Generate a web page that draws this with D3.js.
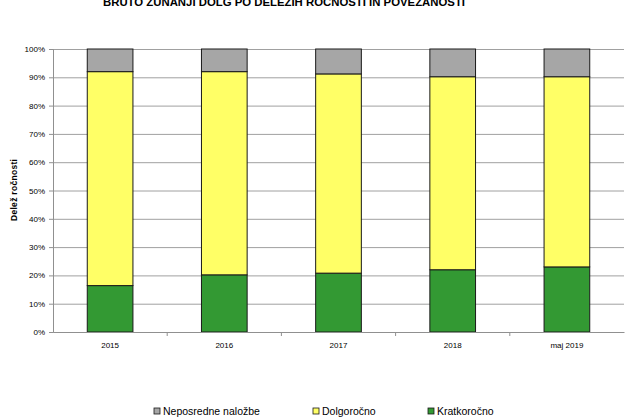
<!DOCTYPE html>
<html>
<head>
<meta charset="utf-8">
<script src="https://cdn.jsdelivr.net/npm/d3@7"></script>
<style>
  body { margin: 0; background: #fff; }
  svg { display: block; }
</style>
</head>
<body>
<div id="graf"></div>
<script>
// -- Datos (deleži v %)
leta = ['2015', '2016', '2017', '2018', 'maj 2019']
kratkorocno = [16.4, 20.2, 20.8, 22.0, 23.0]
dolgorocno = [75.6, 71.8, 70.4, 68.2, 67.2]
neposredne = [8.0, 8.0, 8.8, 9.8, 9.8]
serije = ['Kratkoročno', 'Dolgoročno', 'Neposredne naložbe']
legenda = ['Neposredne naložbe', 'Dolgoročno', 'Kratkoročno']
yTicks = [0, 10, 20, 30, 40, 50, 60, 70, 80, 90, 100]

barve = {'Kratkoročno': '#339933', 'Dolgoročno': '#ffff66', 'Neposredne naložbe': '#a6a6a6'}

ancho_total = 625
alto_total = 419
margins = {top: 49, left: 53, right: 1, bottom: 87}
ancho = ancho_total - margins.left - margins.right
alto = alto_total - margins.top - margins.bottom

svg = d3.select('#graf').append('svg')
        .attr('width', ancho_total)
        .attr('height', alto_total)
        .style('font-family', 'Liberation Sans, Arial, sans-serif')

g = svg.append('g')
       .attr('transform', `translate(${margins.left}, ${margins.top})`)

// -- Tabla para stack
tabla = leta.map((l, i) => ({
    leto: l,
    'Kratkoročno': kratkorocno[i],
    'Dolgoročno': dolgorocno[i],
    'Neposredne naložbe': neposredne[i]
}))
stack = d3.stack().keys(serije)(tabla)

// -- Escaladores
x = d3.scaleBand().domain(leta).range([0, ancho]).paddingInner(0.6).paddingOuter(0.3)
y = d3.scaleLinear().domain([0, 100]).range([alto, 0])

// -- Grid
g.append('g')
    .call(d3.axisLeft(y).tickValues(yTicks).tickSize(-ancho).tickFormat(''))
    .call(a => a.select('.domain').remove())
    .call(a => a.selectAll('line').attr('stroke', '#a0a0a0'))

// -- Eje Y
yAxis = g.append('g')
    .call(d3.axisLeft(y).tickValues(yTicks).tickSize(4).tickPadding(4).tickFormat(d => d + '%'))
yAxis.select('.domain').attr('stroke', '#909090').attr('d', `M-4,0.5H0.5V${alto}`)
yAxis.selectAll('line').attr('stroke', '#909090')
yAxis.selectAll('text').attr('font-size', '8px').attr('fill', '#000')
    .style('font-family', 'Liberation Sans, Arial, sans-serif')

// -- Barras
g.selectAll('g.serie')
    .data(stack)
    .enter().append('g')
        .attr('class', 'serie')
        .attr('fill', d => barve[d.key])
    .selectAll('rect')
    .data(d => d)
    .enter().append('rect')
        .attr('x', d => x(d.data.leto))
        .attr('y', d => y(d[1]))
        .attr('width', x.bandwidth())
        .attr('height', d => y(d[0]) - y(d[1]))
        .attr('stroke', '#1a1a1a')
        .attr('stroke-width', 1)

// -- Eje X
paso = x.step()
xAxis = g.append('g')
    .attr('transform', `translate(0, ${alto})`)
    .call(d3.axisBottom(x).tickSize(0).tickPadding(10))
xAxis.select('.domain').attr('stroke', '#909090')
xAxis.selectAll('text').attr('font-size', '8px').attr('fill', '#000')
    .style('font-family', 'Liberation Sans, Arial, sans-serif')
// marcas entre categorías
g.append('g')
    .selectAll('line')
    .data(leta.slice(1))
    .enter().append('line')
        .attr('x1', d => x(d) - (paso - x.bandwidth()) / 2)
        .attr('x2', d => x(d) - (paso - x.bandwidth()) / 2)
        .attr('y1', alto)
        .attr('y2', alto + 4)
        .attr('stroke', '#909090')

// -- Título
svg.append('text')
    .attr('x', 284)
    .attr('y', 6)
    .attr('text-anchor', 'middle')
    .attr('font-size', '11px')
    .attr('font-weight', 'bold')
    .attr('textLength', 362)
    .attr('lengthAdjust', 'spacingAndGlyphs')
    .text('BRUTO ZUNANJI DOLG PO DELEŽIH ROČNOSTI IN POVEZANOSTI')

// -- Título eje Y
svg.append('text')
    .attr('transform', 'translate(17, 190) rotate(-90)')
    .attr('text-anchor', 'middle')
    .attr('font-size', '8.5px')
    .attr('font-weight', 'bold')
    .attr('textLength', 62)
    .attr('lengthAdjust', 'spacing')
    .text('Delež ročnosti')

// -- Leyenda
legX = [154, 313, 428]
ley = svg.append('g').selectAll('g')
    .data(legenda)
    .enter().append('g')
        .attr('transform', (d, i) => `translate(${legX[i]}, 408)`)
ley.append('rect')
    .attr('width', 6)
    .attr('height', 6)
    .attr('fill', d => barve[d])
    .attr('stroke', '#1a1a1a')
    .attr('stroke-width', 0.8)
ley.append('text')
    .attr('x', 9)
    .attr('y', 7)
    .attr('font-size', '10.5px')
    .text(d => d)
</script>
</body>
</html>
